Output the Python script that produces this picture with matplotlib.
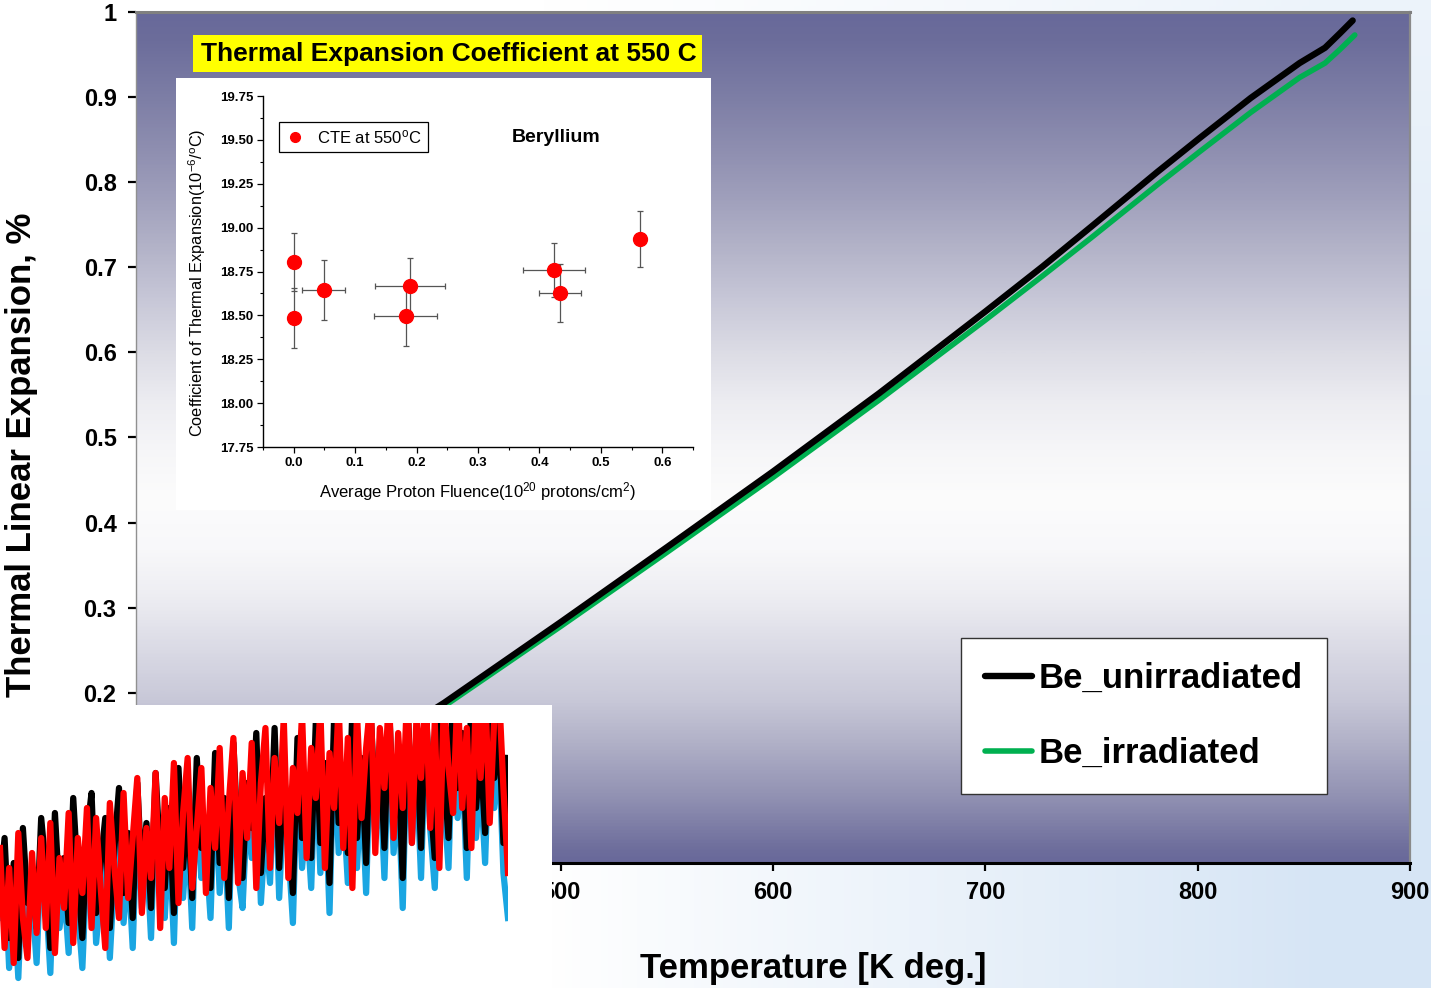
import numpy as np
import matplotlib
matplotlib.use("Agg")
import matplotlib.pyplot as plt
from matplotlib.colors import LinearSegmentedColormap
from matplotlib.patches import Rectangle
from matplotlib.lines import Line2D
from matplotlib.ticker import MultipleLocator, FormatStrFormatter

plt.rcParams['font.family'] = ['Liberation Sans', 'DejaVu Sans']
plt.rcParams['mathtext.fontset'] = 'custom'
plt.rcParams['mathtext.rm'] = 'Liberation Sans'
plt.rcParams['mathtext.it'] = 'Liberation Sans:italic'
plt.rcParams['mathtext.bf'] = 'Liberation Sans:bold'

# ---------------- data: main chart ----------------
temp_unirr = [340, 400, 445, 500, 550, 600, 650, 700, 727, 750, 781, 801, 825, 848, 860, 867, 873]
exp_unirr = [0.016, 0.117, 0.188, 0.283, 0.371, 0.460, 0.552, 0.648, 0.701, 0.748,
             0.812, 0.852, 0.899, 0.940, 0.958, 0.975, 0.990]
temp_irr = [340, 400, 445, 500, 550, 600, 650, 700, 727, 750, 781, 801, 825, 848, 860, 867, 874]
exp_irr = [0.012, 0.113, 0.184, 0.278, 0.365, 0.453, 0.544, 0.638, 0.690, 0.735,
           0.797, 0.836, 0.882, 0.923, 0.940, 0.956, 0.973]
series_labels = ["Be_unirradiated", "Be_irradiated"]
x_ticks = [300, 400, 500, 600, 700, 800, 900]
y_ticks = [0, 0.1, 0.2, 0.3, 0.4, 0.5, 0.6, 0.7, 0.8, 0.9, 1.0]
y_ticklabels = ["0", "0.1", "0.2", "0.3", "0.4", "0.5", "0.6", "0.7", "0.8", "0.9", "1"]

# ---------------- data: inset (CTE at 550 C) ----------------
fluence = [0.0, 0.0, 0.049, 0.190, 0.182, 0.424, 0.4335, 0.563]
cte = [18.805, 18.485, 18.644, 18.666, 18.494, 18.758, 18.628, 18.935]
cte_err = [0.165, 0.17, 0.17, 0.16, 0.17, 0.155, 0.165, 0.16]
fluence_err = [0.0, 0.0, 0.035, 0.057, 0.052, 0.05, 0.034, 0.005]

# ---------------- data: overlapping noisy snippet ----------------
noise_red = [140, 40, 120, 25, 155, 70, 30, 135, 55, 150,
             60, 165, 35, 130, 80, 175, 45, 150, 95, 180,
             60, 170, 100, 40, 185, 120, 70, 195, 90, 150,
             210, 75, 160, 110, 215, 60, 190, 120, 225, 85,
             175, 230, 100, 160, 220, 95, 200, 140, 240, 110,
             185, 250, 105, 215, 150, 245, 100, 205, 260, 120,
             230, 165, 270, 110, 220, 175, 275, 130, 240, 190,
             280, 120, 235, 180, 285, 140, 250, 100, 275, 170,
             240, 290, 135, 260, 200, 295, 150, 255, 180, 300,
             145, 270, 210, 300, 160, 265, 120, 290, 220, 175,
             300, 180, 260, 140, 295, 210, 300, 165, 270, 300, 200, 115]
noise_black = [100, 150, 50, 125, 30, 160, 85, 115, 60, 170,
               120, 40, 175, 90, 130, 65, 190, 110, 50, 155,
               195, 75, 125, 170, 60, 140, 200, 95, 155, 70,
               205, 110, 165, 80, 215, 130, 100, 180, 75, 220,
               120, 185, 90, 230, 140, 170, 100, 235, 125, 190,
               90, 245, 145, 110, 205, 160, 255, 115, 190, 135,
               260, 120, 215, 170, 95, 250, 150, 200, 130, 265,
               145, 225, 105, 270, 165, 210, 135, 280, 150, 230,
               125, 275, 180, 240, 140, 285, 165, 225, 110, 290,
               175, 250, 140, 285, 190, 130, 270, 215, 150, 295,
               200, 255, 140, 290, 180, 235, 155, 295, 210, 265, 145, 230]
noise_blue = [70, 120, 20, 95, 10, 130, 55, 90, 25, 140,
              95, 15, 150, 60, 100, 35, 165, 80, 20, 130,
              170, 45, 95, 140, 30, 115, 175, 65, 125, 40,
              180, 80, 140, 50, 190, 100, 70, 155, 45, 195,
              90, 160, 60, 205, 110, 140, 70, 210, 95, 165,
              60, 220, 115, 80, 180, 130, 230, 85, 160, 105,
              235, 90, 190, 140, 65, 225, 120, 175, 100, 240,
              115, 200, 75, 245, 135, 185, 105, 255, 120, 205,
              95, 250, 150, 215, 110, 260, 135, 200, 80, 265,
              145, 225, 110, 260, 160, 100, 245, 190, 120, 270,
              170, 230, 110, 265, 150, 210, 125, 270, 180, 240, 115, 70]

W, H = 1431, 988
fig = plt.figure(figsize=(W / 100, H / 100), dpi=100)

def fr(x0, y0, x1, y1):
    """pixel box (top-left origin) -> figure fraction rect"""
    return [x0 / W, 1 - y1 / H, (x1 - x0) / W, (y1 - y0) / H]

# ---- figure background (white with pale blue toward lower right) ----
bg = fig.add_axes([0, 0, 1, 1], zorder=-10)
bg.axis('off')
gx = np.linspace(0, 1, 200)[None, :]
gy = np.linspace(0, 1, 140)[:, None]  # 0 top -> 1 bottom
w = np.clip((gx - 0.38) / 0.55, 0, 1) * np.clip(0.45 + gy * 0.7, 0, 1)
white = np.array([1.0, 1.0, 1.0])
blue = np.array([0xd6, 0xe5, 0xf5]) / 255
img = white[None, None, :] * (1 - w[..., None]) + blue[None, None, :] * w[..., None]
bg.imshow(img, extent=[0, 1, 0, 1], aspect='auto', origin='upper')
bg.set_xlim(0, 1); bg.set_ylim(0, 1)

# ---- main axes ----
ax = fig.add_axes(fr(136, 12, 1410, 863), zorder=1)
stops = [(0.0, '#68689a'), (0.015, '#6e6e9c'), (0.074, '#9090b2'), (0.13, '#acacc4'),
         (0.19, '#c8c8d8'), (0.25, '#dadae5'), (0.31, '#ededf2'), (0.368, '#f8f8fa'),
         (0.427, '#fcfcfc'), (0.485, '#f6f6f8'), (0.544, '#ececf1'), (0.60, '#dcdce5'),
         (0.66, '#c8c8d8'), (0.72, '#b4b4c9'), (0.78, '#a0a0bc'), (0.84, '#8e8eb0'),
         (0.897, '#7e7fa6'), (0.967, '#6c6d9b'), (1.0, '#68699a')]
cmap = LinearSegmentedColormap.from_list('bgrad', stops)
grad = np.linspace(0, 1, 512)[:, None]
ax.imshow(grad, cmap=cmap, extent=[0, 1, 0, 1], transform=ax.transAxes,
          aspect='auto', origin='lower', zorder=0)

l1, = ax.plot(temp_unirr, exp_unirr, color='black', lw=4.6, zorder=3,
              solid_capstyle='round', solid_joinstyle='round')
l2, = ax.plot(temp_irr, exp_irr, color='#00b050', lw=4.0, zorder=2,
              solid_capstyle='round', solid_joinstyle='round')

ax.set_xlim(300, 900)
ax.set_ylim(0, 1)
ax.set_xticks(x_ticks)
ax.set_yticks(y_ticks)
ax.set_yticklabels(y_ticklabels)
ax.tick_params(axis='both', direction='out', length=6, width=1.6, color='black',
               labelsize=17, labelcolor='black')
ax.tick_params(axis='y', pad=8)
ax.tick_params(axis='x', pad=7)
for lab in ax.get_xticklabels() + ax.get_yticklabels():
    lab.set_fontweight('bold')
ax.spines['top'].set_color('#808080'); ax.spines['top'].set_linewidth(2.2)
ax.spines['right'].set_color('#8a8a8a'); ax.spines['right'].set_linewidth(1.6)
ax.spines['left'].set_color('#909090'); ax.spines['left'].set_linewidth(1.0)
ax.spines['bottom'].set_color('black'); ax.spines['bottom'].set_linewidth(2.2)

fig.text(22 / W, 1 - 455 / H, "Thermal Linear Expansion, %", rotation=90,
         ha='center', va='center', fontsize=25, fontweight='bold')
fig.text(813 / W, 1 - 968 / H, "Temperature [K deg.]", ha='center', va='center',
         fontsize=25, fontweight='bold')

leg = ax.legend([l1, l2], series_labels, loc='upper left',
                bbox_to_anchor=((961 - 136) / 1274, (863 - 638) / 851),
                prop={'family': 'Liberation Sans', 'weight': 'bold', 'size': 25},
                frameon=True, fancybox=False, edgecolor='#333333', framealpha=1,
                borderpad=0.7, labelspacing=1.2, handlelength=1.35,
                handletextpad=0.18, borderaxespad=0)
leg.get_frame().set_linewidth(1.0)
leg.set_zorder(5)

# ---- yellow title box ----
fig.add_artist(Rectangle((193 / W, 1 - 72 / H), (702 - 193) / W, 37 / H,
                         transform=fig.transFigure, facecolor='#ffff00',
                         edgecolor='none', zorder=6))
fig.text(449 / W, 1 - 54 / H, "Thermal Expansion Coefficient at 550 C",
         ha='center', va='center', fontsize=19, fontweight='bold', zorder=7)

# ---- inset white panel + inset chart ----
panel = fig.add_axes(fr(176, 78, 711, 510), zorder=5)
panel.set_facecolor('white')
panel.set_xticks([]); panel.set_yticks([])
for s in panel.spines.values():
    s.set_visible(False)

axi = fig.add_axes(fr(263, 96, 693, 447), zorder=6)
axi.set_facecolor('none')
axi.errorbar(fluence, cte, yerr=cte_err, xerr=fluence_err, fmt='none',
             ecolor='#555555', elinewidth=0.9, capsize=2.5, capthick=0.9, zorder=2)
axi.plot(fluence, cte, 'o', color='#ff0000', markersize=10, zorder=3)
axi.set_xlim(-0.05, 0.65)
axi.set_ylim(17.75, 19.75)
axi.xaxis.set_major_locator(MultipleLocator(0.1))
axi.xaxis.set_minor_locator(MultipleLocator(0.05))
axi.yaxis.set_major_locator(MultipleLocator(0.25))
axi.yaxis.set_minor_locator(MultipleLocator(0.125))
axi.xaxis.set_major_formatter(FormatStrFormatter('%.1f'))
axi.yaxis.set_major_formatter(FormatStrFormatter('%.2f'))
axi.spines['top'].set_visible(False)
axi.spines['right'].set_visible(False)
axi.spines['left'].set_linewidth(1.0)
axi.spines['bottom'].set_linewidth(1.0)
axi.tick_params(which='major', direction='out', length=4, width=0.9, labelsize=9.5, pad=3)
axi.tick_params(which='minor', direction='out', length=2.5, width=0.8)
for lab in axi.get_xticklabels() + axi.get_yticklabels():
    lab.set_fontweight('bold')
axi.set_ylabel(r"Coefficient of Thermal Expansion(10$^{-6}$/$^{\mathrm{o}}$C)",
               fontsize=11.8)
axi.yaxis.set_label_coords(-0.128, 0.467)
axi.set_xlabel(r"Average Proton Fluence(10$^{20}$ protons/cm$^{2}$)",
               fontsize=12, labelpad=8)
h = Line2D([], [], marker='o', color='#ff0000', ls='none', markersize=7)
li = axi.legend([h], [r"CTE at 550$^{\mathrm{o}}$C"], loc='upper left',
                bbox_to_anchor=(0.037, 0.925), fontsize=12, frameon=True,
                fancybox=False, edgecolor='black', framealpha=1,
                handletextpad=0.75, borderpad=0.35, handlelength=1.2, borderaxespad=0)
li.get_frame().set_linewidth(0.9)
axi.text(0.427, 19.515, "Beryllium", fontsize=14, fontweight='bold',
         ha='center', va='center')

# ---- overlapping noisy snippet (bottom-left) ----
snip_bg = fig.add_axes(fr(0, 705, 552, 988), zorder=20)
snip_bg.set_facecolor('white')
snip_bg.set_xticks([]); snip_bg.set_yticks([])
for s in snip_bg.spines.values():
    s.set_visible(False)

axn = fig.add_axes(fr(0, 723, 508, 988), zorder=21)
axn.set_facecolor('none')
idx = np.arange(len(noise_red))
axn.plot(idx, noise_blue, color='#1aa6e2', lw=4.5, solid_joinstyle='round')
axn.plot(idx, noise_black, color='black', lw=4.5, solid_joinstyle='round')
axn.plot(idx, noise_red, color='#ff0000', lw=4.5, solid_joinstyle='round')
axn.set_xlim(0, len(noise_red) - 1)
axn.set_ylim(0, 265)
axn.axis('off')

fig.savefig("out.png", dpi=100)
